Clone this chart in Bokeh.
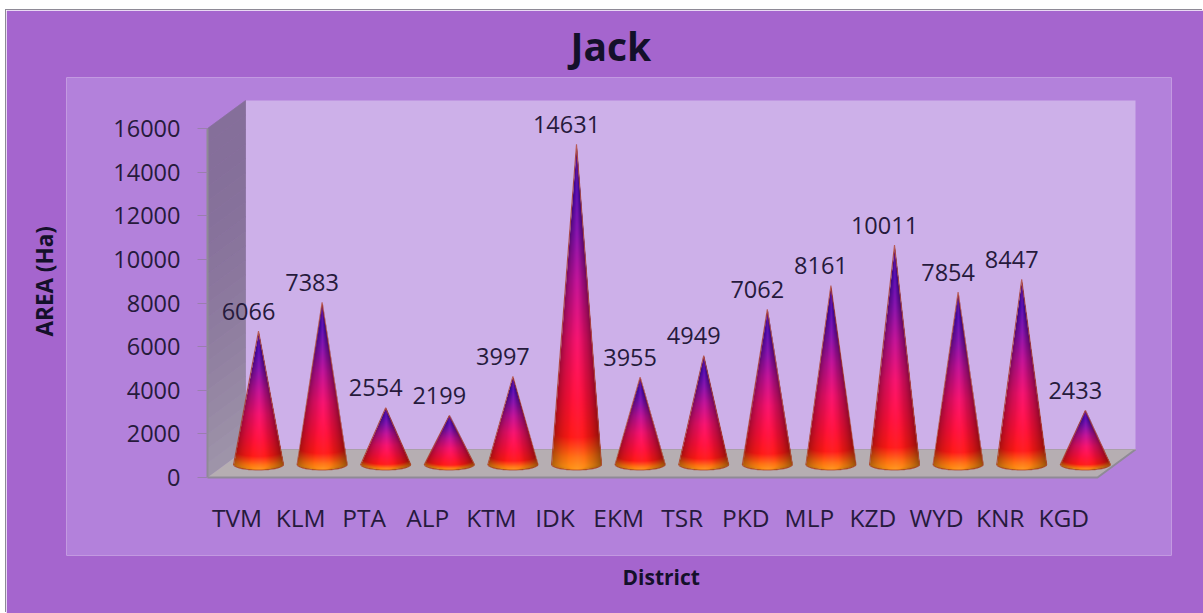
import numpy as np
from bokeh.plotting import figure
from bokeh.models import Range1d, FixedTicker, ColumnDataSource, Title
from bokeh.core.properties import value
from bokeh.embed import file_html
from bokeh.resources import INLINE

districts = ["TVM", "KLM", "PTA", "ALP", "KTM", "IDK", "EKM", "TSR", "PKD", "MLP", "KZD", "WYD", "KNR", "KGD"]
area = [6066, 7383, 2554, 2199, 3997, 14631, 3955, 4949, 7062, 8161, 10011, 7854, 8447, 2433]
y_ticks = [0, 2000, 4000, 6000, 8000, 10000, 12000, 14000, 16000]

FONT = "Open Sans"
INK = "#261a3c"
TITLE_INK = "#14102a"
OUTER, PANEL, WALL, FLOOR = "#a565ce", "#b381db", "#cdb0e9", "#b6aeb2"

PX_X = 63.6            # pixels per category
PX_Y = 349 / 16000     # pixels per area unit
ORIGIN_X, ORIGIN_Y = 236.5, 477   # page position of the first category and of zero
DEPTH_X, DEPTH_Y = 38 / PX_X, 28 / PX_Y


def data_x(px):
    return (px - ORIGIN_X) / PX_X


def data_y(py):
    return (ORIGIN_Y - py) * (1 / PX_Y)


# the frame is the lighter panel of the chart
p = figure(width=1197, height=603, output_backend="svg", toolbar_location=None,
           x_range=Range1d(data_x(66), data_x(1171)), y_range=Range1d(data_y(555), data_y(77)),
           min_border_left=60, min_border_right=32, min_border_top=67, min_border_bottom=58,
           background_fill_color=PANEL, border_fill_color=OUTER, outline_line_color=None)
p.margin = (10, 0, 0, 6)
p.styles = {"box-shadow": "-1px -1px 0 #8e8a96"}
p.grid.visible = False

p.title.text = "Jack"
p.title.align = "left"
p.title.offset = 504
p.title.standoff = 12
p.title.text_font = FONT
p.title.text_font_size = "39px"
p.title.text_font_style = "bold"
p.title.text_color = TITLE_INK

x0, x1 = data_x(207), data_x(1097)
p.patch([x0 + DEPTH_X, x1 + DEPTH_X, x1 + DEPTH_X, x0 + DEPTH_X],
        [DEPTH_Y, DEPTH_Y, 16000 + DEPTH_Y, 16000 + DEPTH_Y], fill_color=WALL, line_color=None)

# side wall, shaded from top to bottom
top_c, bot_c = np.array([133, 111, 154]), np.array([160, 150, 170])
edges = np.linspace(16000, 0, 25)
for a_, b_ in zip(edges[:-1], edges[1:]):
    k = 1 - (a_ + b_) / 32000
    c = top_c + (bot_c - top_c) * k ** 2
    col = "#%02x%02x%02x" % tuple(int(q) for q in c)
    p.patch([x0, x0 + DEPTH_X, x0 + DEPTH_X, x0], [b_, b_ + DEPTH_Y, a_ + DEPTH_Y, a_],
            fill_color=col, line_color=col, line_width=0.7)
p.line([x0, x0], [0, 16000], line_color="#8f8a96", line_width=2)
p.patch([x0, x0 + DEPTH_X, x1 + DEPTH_X, x1],
        [0, DEPTH_Y, DEPTH_Y, 0], fill_color=FLOOR, line_color=None)
p.line([x0, x1, x1 + DEPTH_X], [0, 0, DEPTH_Y], line_color="#8f8a96", line_width=2)
p.line([x0 + DEPTH_X, x1 + DEPTH_X], [DEPTH_Y, DEPTH_Y], line_color="#a9a0a8", line_width=1)

stops = np.array([0, .04, .10, .22, .40, .58, .72, .86, .94, 1.0])
cols = np.array([[255, 150, 20], [255, 110, 15], [250, 25, 20], [245, 15, 55], [225, 15, 100],
                 [175, 15, 140], [120, 15, 160], [75, 10, 170], [85, 15, 150], [170, 50, 35]], dtype=float)

R_PX, B_PX = 25.0, 5.5
BASE_Y = 13.0 / PX_Y
TIP_Y = 14.0 / PX_Y
SCALE = 3

xs_out, ys_out = [], []
for i, v in enumerate(area):
    cx = i + 21.5 / PX_X
    H_PX = (v + TIP_Y - BASE_Y) * PX_Y
    w, h = int(2 * R_PX * SCALE) + 1, int((H_PX + B_PX) * SCALE) + 1
    u = (np.arange(w) + .5) / SCALE - w / (2 * SCALE)
    t = (np.arange(h) + .5) / SCALE - B_PX
    U, T = np.meshgrid(u, t)
    half = np.where(T >= 0, R_PX * (1 - T / H_PX), R_PX * np.sqrt(np.clip(1 - (T / B_PX) ** 2, 0, 1)))
    half = np.maximum(half, 1e-3)
    s = np.clip(U / half, -1, 1)
    curve = B_PX * np.sqrt(1 - s ** 2) * np.clip(1 - T / H_PX, 0, 1)
    f = np.clip((T + curve) / H_PX, 0, 1)
    rgb = np.stack([np.interp(f, stops, cols[:, k]) for k in range(3)], axis=-1)
    shade = 1.0 - 0.38 * np.abs(s + 0.05) ** 2.2
    glow = np.clip(1 - np.abs(s - 0.05) / 0.45, 0, 1) * 24
    rgb = np.clip(rgb * shade[..., None] + glow[..., None] * np.array([1.0, .3, .6]), 0, 255)
    alpha = np.clip((half - np.abs(U)) * SCALE, 0, 1) * 255
    rgba = np.dstack([rgb, alpha]).astype(np.uint8)
    img = rgba.view(np.uint32).reshape(h, w)
    p.image_rgba(image=[img], x=cx - w / (2 * SCALE) / PX_X, y=BASE_Y - B_PX / PX_Y,
                 dw=w / SCALE / PX_X, dh=h / SCALE / PX_Y)
    a = np.linspace(np.pi, 2 * np.pi, 25)
    xs_out.append(list(cx + R_PX * np.cos(a) / PX_X) + [cx])
    ys_out.append(list(BASE_Y + B_PX * np.sin(a) / PX_Y) + [v + TIP_Y])

p.patches(xs_out, ys_out, fill_color=None, line_color="#b04028", line_alpha=.75, line_width=1.1)

labels = ColumnDataSource(dict(
    x=[i + 11.5 / PX_X for i in range(len(area))],
    y=[v + TIP_Y + 20 / PX_Y for v in area],
    text=[str(v) for v in area]))
p.text(x="x", y="y", text="text", source=labels, text_font=value(FONT), text_font_size="23.5px",
       text_color=INK, text_align="center", text_baseline="middle")

xa, ya = p.xaxis[0], p.yaxis[0]
xa.fixed_location = 0
xa.ticker = FixedTicker(ticks=list(range(len(districts))))
xa.major_label_overrides = {i: d for i, d in enumerate(districts)}
xa.axis_line_color = None
xa.major_tick_line_color = None
xa.minor_tick_line_color = None
xa.major_label_standoff = 17
xa.major_label_text_font = FONT
xa.major_label_text_font_size = "24.5px"
xa.major_label_text_color = INK

ya.fixed_location = x0
ya.ticker = FixedTicker(ticks=y_ticks)
ya.axis_line_color = None
ya.minor_tick_line_color = None
ya.major_tick_line_color = "#9a7fae"
ya.major_tick_out = 10
ya.major_tick_in = 0
ya.major_label_standoff = 17
ya.major_label_text_font = FONT
ya.major_label_text_font_size = "23.5px"
ya.major_label_text_color = INK

p.add_layout(Title(text="AREA (Ha)", align="left", offset=219, standoff=14, text_font=FONT,
                   text_font_size="22.5px", text_font_style="bold", text_color=TITLE_INK), "left")
p.add_layout(Title(text="District", align="left", offset=556, standoff=10, text_font=FONT,
                   text_font_size="21px", text_font_style="bold", text_color=TITLE_INK), "below")

open("out.html", "w").write(file_html(p, INLINE))
